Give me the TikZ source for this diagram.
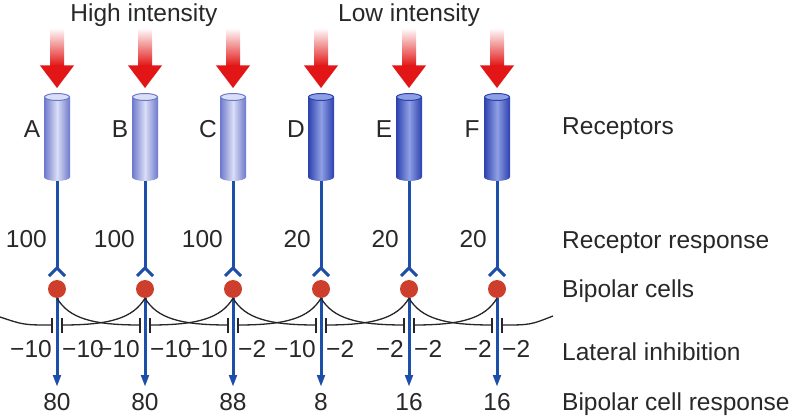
\documentclass[tikz,border=0pt]{standalone}
\usepackage{fontspec}
\setmainfont{Liberation Sans}
\usetikzlibrary{arrows.meta}
\definecolor{freccia}{RGB}{226,22,22}
\definecolor{assone}{RGB}{28,78,170}
\definecolor{bipolare}{RGB}{206,62,44}
\definecolor{testo}{RGB}{40,40,40}
\definecolor{chiarobordo}{RGB}{108,120,204}
\definecolor{chiaromezzo}{RGB}{218,222,246}
\definecolor{scurobordo}{RGB}{44,64,174}
\definecolor{scuromezzo}{RGB}{142,160,228}
\tikzset{
  lab/.style={text=testo,font=\fontsize{24.5}{28}\selectfont,inner sep=0pt},
  dot/.style={circle,fill=bipolare,minimum size=18pt,inner sep=0pt},
  axon/.style={assone,line width=3pt},
  inib/.style={black!85,line width=1.3pt},
}
\begin{document}
\begin{tikzpicture}[x=1pt,y=-1pt]
        \useasboundingbox (0,0) rectangle (800,417);
        % Colonne
        \foreach \x/\n/\s/\m in {57/A/chiarobordo/chiaromezzo,145/B/chiarobordo/chiaromezzo,
                233/C/chiarobordo/chiaromezzo,321/D/scurobordo/scuromezzo,
                409/E/scurobordo/scuromezzo,497/F/scurobordo/scuromezzo} {
            % luce
            \shade[top color=white,bottom color=freccia] (\x-7,28) rectangle (\x+7,66);
            \fill[freccia] (\x-17,65.5) -- (\x+17,65.5) -- (\x,88) -- cycle;
            % recettore
            \shade[left color=\s,right color=\s,middle color=\m]
                (\x-13,97) -- (\x-13,177) arc (180:0:13 and 4) -- (\x+13,97) -- cycle;
            \filldraw[fill=\m,draw=\s,line width=1pt] (\x,97) ellipse (12.5 and 3.5);
            \node[lab,anchor=base] (let\n) at (\x-25,137) {\n};
            % punti
            \coordinate (cyl\n) at (\x,181);
            \coordinate (fork\n) at (\x,268);
            \node[dot] (dot\n) at (\x,289) {};
            \coordinate (tip\n) at (\x,387);
            \coordinate (l\n) at (\x-5,325);
            \coordinate (r\n) at (\x+5,325);
            % bipolare
            \draw[axon] (cyl\n) -- (fork\n);
            \draw[axon] (fork\n) ++(-8,8) -- (fork\n) -- ++(8,8);
            \draw[axon,-{Triangle[length=12pt,width=7.5pt]}] (dot\n) -- (tip\n);
            \draw[inib] (l\n) ++(0,-7.5) -- ++(0,15);
            \draw[inib] (r\n) ++(0,-7.5) -- ++(0,15);
        }
        % Inibizione
        \foreach \a/\b in {A/B,B/C,C/D,D/E,E/F} {
            \draw[inib] (dot\a.south) .. controls +(12,20) and +(-48,0) .. (l\b);
            \draw[inib] (dot\b.south) .. controls +(-12,20) and +(48,0) .. (r\a);
        }
        \coordinate (edgeL) at (0,317);
        \coordinate (edgeR) at (553,316);
        \draw[inib] (edgeL) .. controls (24,325) .. (lA);
        \draw[inib] (rF) .. controls (530,325) .. (edgeR);
        % Titoli
        \node[lab,anchor=base] (high) at (144,22) {High intensity};
        \node[lab,anchor=base] (low) at (409,22) {Low intensity};
        % Numeri
        \node[lab,anchor=base east] (recA) at (47,247) {100};
        \node[lab,anchor=base east] (recB) at (135,247) {100};
        \node[lab,anchor=base east] (recC) at (223,247) {100};
        \node[lab,anchor=base east] (recD) at (311,247) {20};
        \node[lab,anchor=base east] (recE) at (399,247) {20};
        \node[lab,anchor=base east] (recF) at (487,247) {20};
        \node[lab,anchor=base east] (inAl) at (lA |- 0,357) {−10};
        \node[lab,anchor=base west] (inAr) at (rA |- 0,357) {−10};
        \node[lab,anchor=base east] (inBl) at (lB |- 0,357) {−10};
        \node[lab,anchor=base west] (inBr) at (rB |- 0,357) {−10};
        \node[lab,anchor=base east] (inCl) at (lC |- 0,357) {−10};
        \node[lab,anchor=base west] (inCr) at (rC |- 0,357) {−2};
        \node[lab,anchor=base east] (inDl) at (lD |- 0,357) {−10};
        \node[lab,anchor=base west] (inDr) at (rD |- 0,357) {−2};
        \node[lab,anchor=base east] (inEl) at (lE |- 0,357) {−2};
        \node[lab,anchor=base west] (inEr) at (rE |- 0,357) {−2};
        \node[lab,anchor=base east] (inFl) at (lF |- 0,357) {−2};
        \node[lab,anchor=base west] (inFr) at (rF |- 0,357) {−2};
        \node[lab,anchor=base] (outA) at (tipA |- 0,410) {80};
        \node[lab,anchor=base] (outB) at (tipB |- 0,410) {80};
        \node[lab,anchor=base] (outC) at (tipC |- 0,410) {88};
        \node[lab,anchor=base] (outD) at (tipD |- 0,410) {8};
        \node[lab,anchor=base] (outE) at (tipE |- 0,410) {16};
        \node[lab,anchor=base] (outF) at (tipF |- 0,410) {16};
        % Legenda
        \node[lab,anchor=base west] (receptors) at (562,135) {Receptors};
        \node[lab,anchor=base west] (response) at (562,248) {Receptor response};
        \node[lab,anchor=base west] (bipolar) at (562,297) {Bipolar cells};
        \node[lab,anchor=base west] (lateral) at (562,360) {Lateral inhibition};
        \node[lab,anchor=base west] (output) at (562,410) {Bipolar cell response};
    \end{tikzpicture}
\end{document}
